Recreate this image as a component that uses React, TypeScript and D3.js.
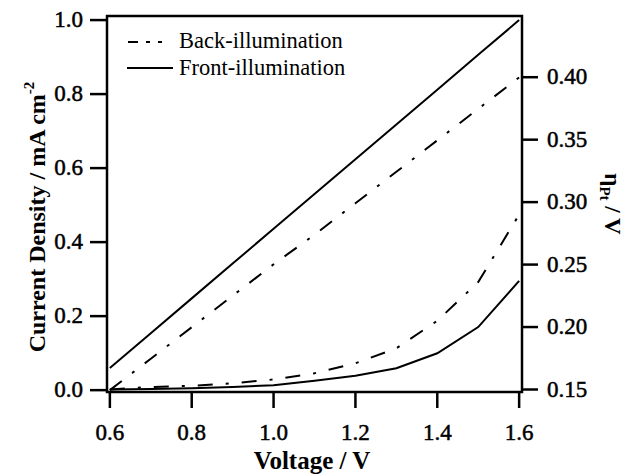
import React from "react";
import * as d3 from "d3";

const voltage = [0.6, 0.7, 0.8, 0.9, 1.0, 1.1, 1.2, 1.3, 1.4, 1.5, 1.6];
const currentFront = [0.06, 0.154, 0.248, 0.342, 0.436, 0.53, 0.624, 0.718, 0.812, 0.906, 1.0];
const currentBack = [0.0, 0.085, 0.17, 0.255, 0.34, 0.42, 0.505, 0.59, 0.675, 0.76, 0.845];
const etaFront = [0.15, 0.1505, 0.151, 0.152, 0.1535, 0.157, 0.161, 0.167, 0.179, 0.2, 0.237];
const etaBack = [0.15, 0.152, 0.153, 0.155, 0.158, 0.163, 0.171, 0.183, 0.205, 0.236, 0.29];

const xTicks = [0.6, 0.8, 1.0, 1.2, 1.4, 1.6];
const yLeftTicks = [0.0, 0.2, 0.4, 0.6, 0.8, 1.0];
const yRightTicks = [0.15, 0.2, 0.25, 0.3, 0.35, 0.4];
const legendLabels = ["Back-illumination", "Front-illumination"];

const W = 625;
const H = 474;
const L = 107, R = 522, T = 16, B = 392;
const FONT = "Liberation Serif, DejaVu Serif, serif";
const DASHDOT = "15,13,3,13";

export default function App() {
  const x = d3.scaleLinear().domain([0.593, 1.607]).range([L, R]);
  const yL = d3.scaleLinear().domain([-0.005, 1.011]).range([B, T]);
  const yR = d3.scaleLinear().domain([0.148, 0.449]).range([B, T]);

  const lineOf = (ys: number[], sc: d3.ScaleLinear<number, number>) =>
    d3
      .line<number>()
      .x((_, i) => x(voltage[i]))
      .y((v) => sc(v))(ys) || "";

  const tickStyle = { fontFamily: FONT, fontSize: 23 };
  const titleStyle = { fontFamily: FONT, fontSize: 25, fontWeight: "bold" as const };

  return (
    <svg
      width={W}
      height={H}
      style={{ position: "absolute", left: 0, top: 0, background: "#fff", fontFamily: FONT }}
    >
      <rect x={0} y={0} width={W} height={H} fill="#fff" />
      <g fill="none" stroke="#000" strokeWidth={2}>
        <path d={lineOf(currentFront, yL)} />
        <path d={lineOf(currentBack, yL)} strokeDasharray={DASHDOT} />
        <path d={lineOf(etaFront, yR)} />
        <path d={lineOf(etaBack, yR)} strokeDasharray={DASHDOT} />
      </g>
      <rect x={L} y={T} width={R - L} height={B - T} fill="none" stroke="#000" strokeWidth={2.5} />
      {yLeftTicks.map((t) => (
        <g key={"l" + t}>
          <line x1={L - 17} x2={L} y1={yL(t)} y2={yL(t)} stroke="#000" strokeWidth={2.5} />
          <text x={83} y={yL(t) + 7} textAnchor="end" style={tickStyle} stroke="#000" strokeWidth={0.5}>
            {t.toFixed(1)}
          </text>
        </g>
      ))}
      {yRightTicks.map((t) => (
        <g key={"r" + t}>
          <line x1={R} x2={R + 16} y1={yR(t)} y2={yR(t)} stroke="#000" strokeWidth={2.5} />
          <text x={547} y={yR(t) + 7} textAnchor="start" style={tickStyle} stroke="#000" strokeWidth={0.5}>
            {t.toFixed(2)}
          </text>
        </g>
      ))}
      {xTicks.map((t) => (
        <g key={"b" + t}>
          <line x1={x(t)} x2={x(t)} y1={B} y2={B + 16} stroke="#000" strokeWidth={2.5} />
          <text x={x(t)} y={440} textAnchor="middle" style={tickStyle} stroke="#000" strokeWidth={0.5}>
            {t.toFixed(1)}
          </text>
        </g>
      ))}
      <text x={312} y={469} textAnchor="middle" style={titleStyle}>
        Voltage / V
      </text>
      <text transform="translate(45,217) rotate(-90)" textAnchor="middle" style={{ ...titleStyle, fontSize: 24 }}>
        Current Density / mA cm
        <tspan style={{ fontSize: 15 }} dy={-11}>-2</tspan>
      </text>
      <text transform="translate(605,204) rotate(90)" textAnchor="middle" style={{ ...titleStyle, fontSize: 23 }}>
        η
        <tspan style={{ fontSize: 15 }} dy={5}>Pt</tspan>
        <tspan dy={-5}> / V</tspan>
      </text>
      <g>
        <line x1={128} x2={163} y1={42} y2={42} stroke="#000" strokeWidth={2} strokeDasharray="10,8,4,8,4,20" />
        <text x={179} y={48} style={{ fontFamily: FONT, fontSize: 22.5 }}>{legendLabels[0]}</text>
        <line x1={127} x2={173} y1={68} y2={68} stroke="#000" strokeWidth={2} />
        <text x={179} y={75} style={{ fontFamily: FONT, fontSize: 22.5 }}>{legendLabels[1]}</text>
      </g>
    </svg>
  );
}
